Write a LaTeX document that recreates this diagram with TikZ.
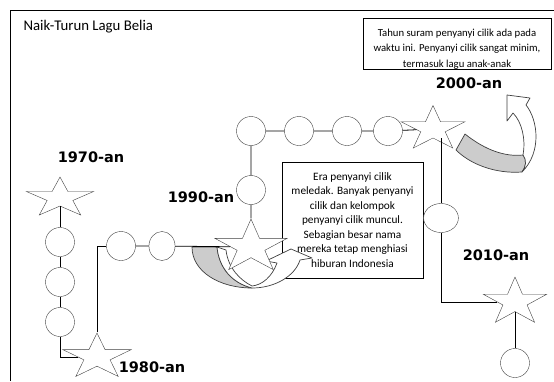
\documentclass[tikz,border=0pt]{standalone}
\usepackage{fontspec}
\setmainfont{Carlito}
\newfontfamily\dekadefont{DejaVu Sans}
\usetikzlibrary{shapes.geometric}

\begin{document}
\begin{tikzpicture}[
    x=1pt, y=-1pt,
    bintang/.style={star, star points=5, star point ratio=2.618, draw=black!75, fill=white, inner sep=0pt, minimum size=48pt, xscale=1.2},
    bulat/.style={circle, draw=black!75, fill=white, inner sep=0pt, minimum size=29pt},
    kotak/.style={rectangle, draw, fill=white, align=center, inner sep=0pt, font=\fontsize{11.3}{14.5}\selectfont},
    dekade/.style={font=\dekadefont\bfseries\fontsize{14.5}{17}\selectfont},
    garis/.style={line width=0.8pt},
    panah/.style={draw=black!75, line width=0.7pt, line join=round}
]
    \useasboundingbox (0,0) rectangle (554,381);

    % Frame and title
    \draw[line width=0.9pt] (554,10) -- (10,10) -- (10,381);
    \node[anchor=base west, font=\fontsize{14.8}{17}\selectfont] (judul) at (20,30) {Naik-Turun Lagu Belia};

    % Notes
    \node[kotak, minimum width=188pt, minimum height=51pt, line width=1pt, font=\fontsize{10.7}{14.5}\selectfont] (ket00) at (457,43.5)
        {\rule{0pt}{18pt}Tahun suram penyanyi cilik ada pada\\[1pt] waktu ini. Penyanyi cilik sangat minim,\\[1pt] termasuk lagu anak-anak};
    \node[kotak, minimum width=141pt, minimum height=116pt] (ket90) at (352.5,220)
        {Era penyanyi cilik\\ meledak. Banyak penyanyi\\ cilik dan kelompok\\ penyanyi cilik muncul.\\ Sebagian besar nama\\ mereka tetap menghiasi\\ hiburan Indonesia};

    % Curved arrow at 1990-an
    \draw[panah, fill=gray!40] (192,247) .. controls (192,272) and (220,288) .. (252,288)
        .. controls (232,283) and (219,268) .. (217,247) -- cycle;
    \draw[panah, fill=white] (217,247) .. controls (219,268) and (232,283) .. (252,288)
        .. controls (275,288) and (295,276) .. (300,260) -- (312,258) -- (291,249) -- (266,261) -- (277,263)
        .. controls (272,277) and (262,285) .. (252,286)
        .. controls (240,280) and (228,268) .. (226,250) -- cycle;

    % Curved arrow at 2000-an
    \draw[panah, fill=gray!40] (456,150) -- (465,134) .. controls (485,150) and (505,157) .. (523,155)
        .. controls (527,160) and (526,167) .. (522,172)
        .. controls (495,174) and (470,164) .. (456,150) -- cycle;
    \draw[panah, fill=white] (523,155) .. controls (526,140) and (522,122) .. (513,113) -- (507,121) -- (507,95)
        -- (530,98) -- (526,105) .. controls (538,120) and (542,152) .. (522,172)
        .. controls (526,167) and (527,160) .. (523,155) -- cycle;

    % Stars
    \node[bintang, minimum size=42pt, xscale=1.4] (s70) at (60,198) {};
    \node[bintang, xscale=1.25] (s80) at (97,357) {};
    \node[bintang, minimum size=56pt, xscale=1.13] (s90) at (251,247) {};
    \node[bintang, minimum size=47pt, xscale=1.19] (s00) at (433,129) {};
    \node[bintang, minimum size=50pt, xscale=1.11] (s10) at (515,302) {};

    % Circles
    \node[bulat] (c1) at (60,242) {};
    \node[bulat] (c2) at (60,282) {};
    \node[bulat] (c3) at (60,322) {};
    \node[bulat] (c4) at (121,246) {};
    \node[bulat, xscale=0.9] (c5) at (162,246) {};
    \node[bulat] (c6) at (251,190) {};
    \node[bulat] (c7) at (251,131) {};
    \node[bulat] (c8) at (299,131) {};
    \node[bulat] (c9) at (347,131) {};
    \node[bulat] (c10) at (388,131) {};
    \node[bulat, xscale=1.2] (c11) at (441,218) {};
    \node[bulat] (c12) at (515,363) {};

    % Decades
    \node[dekade] (l70) at (91,157) {1970-an};
    \node[dekade] (l80) at (152,367) {1980-an};
    \node[dekade] (l90) at (201,197) {1990-an};
    \node[dekade] (l00) at (469,83) {2000-an};
    \node[dekade] (l10) at (496,255) {2010-an};

    % Path
    \draw[garis] (s70) -- (c1) -- (c2) -- (c3);
    \draw[garis] (c3) |- (s80);
    \draw[garis] (s80) |- (c4);
    \draw[garis] (c4) -- (c5) -- (s90);
    \draw[garis] (s90) -- (c6) -- (c7) -- (c8) -- (c9) -- (c10) -- (s00);
    \draw[garis] (c11) -- (c11 |- s00.south);
    \draw[garis] (c11) |- (s10);
    \draw[garis] (s10) -- (c12);

\end{tikzpicture}
\end{document}
